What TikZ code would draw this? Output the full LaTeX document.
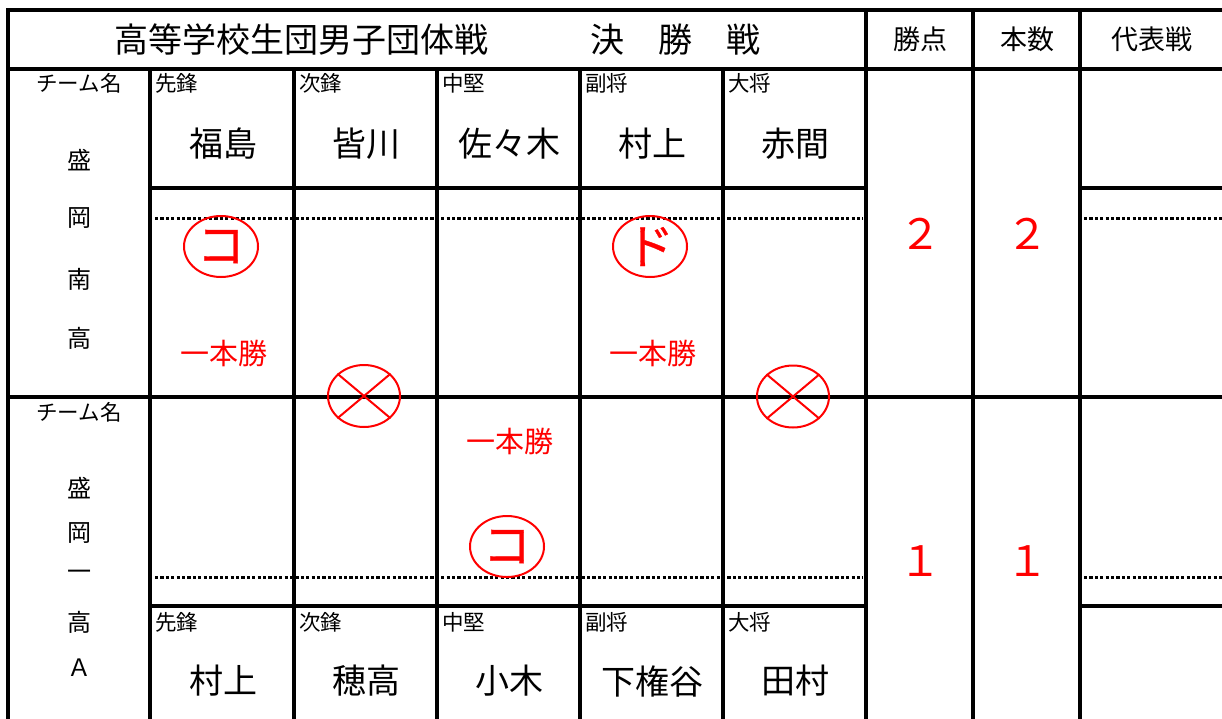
\documentclass[tikz,border=0pt]{standalone}
\usepackage{fontspec}
\setmainfont{Noto Sans CJK JP}
\newfontfamily\jpbold[FakeBold=0.6]{Noto Sans CJK JP}
\usetikzlibrary{shapes.geometric}
\definecolor{markred}{RGB}{255,0,0}
\tikzset{
  gridline/.style={line width=3.2pt, line cap=rect},
  dotline/.style={line width=3pt, dash pattern=on 3.2pt off 2.2pt},
  ttl/.style={inner sep=0pt, font=\fontsize{34}{40}\selectfont},
  hdr/.style={inner sep=0pt, font=\fontsize{27}{32}\selectfont},
  poslbl/.style={inner sep=0pt, anchor=west, font=\fontsize{21.5}{26}\selectfont},
  nm/.style={inner sep=0pt, font=\fontsize{34}{40}\selectfont},
  team/.style={inner sep=0pt, font=\fontsize{24}{28}\selectfont},
  teamlbl/.style={inner sep=0pt, font=\fontsize{21.5}{26}\selectfont},
  redtxt/.style={inner sep=0pt, text=markred, font=\fontsize{29}{34}\selectfont},
  reddig/.style={inner sep=0pt, text=markred, font=\fontsize{42}{48}\selectfont},
  redell/.style={ellipse, draw=markred, line width=2pt, minimum width=74pt, minimum height=61pt, inner sep=0pt, text=markred, font=\jpbold\fontsize{48}{54}\selectfont},
  xmark/.style={draw=markred, line width=2pt},
}
\begin{document}
\begin{tikzpicture}[x=1pt,y=-1pt]
\useasboundingbox (0,0) rectangle (1222,718);
\fill[white] (0,0) rectangle (1222,718);
\begin{scope}
\clip (0,0) rectangle (1222,718);
% horizontal lines
\draw[gridline] (8,10) -- (1240,10);
\draw[gridline] (8,69) -- (1240,69);
\draw[gridline] (150,188) -- (866,188);
\draw[gridline] (1080,188) -- (1240,188);
\draw[gridline] (8,397) -- (1240,397);
\draw[gridline] (150,606) -- (866,606);
\draw[gridline] (1080,606) -- (1240,606);
% vertical lines
\draw[gridline] (8,10) -- (8,740);
\foreach \x in {150,294,437,580,723} \draw[gridline] (\x,69) -- (\x,740);
\foreach \x in {866,973,1080} \draw[gridline] (\x,10) -- (\x,740);
% dotted lines
\draw[dotline] (155,218) -- (863,218);
\draw[dotline] (1084,218) -- (1230,218);
\draw[dotline] (155,577) -- (863,577);
\draw[dotline] (1084,577) -- (1230,577);
\end{scope}

% header
\node[ttl] (title) at (437,40) {高等学校生団男子団体戦　　　決　勝　戦};
\node[hdr] (hp) at (920,39) {勝点};
\node[hdr] (hn) at (1027,39) {本数};
\node[hdr] (hd) at (1152,39) {代表戦};

% top team
\node[teamlbl] (tn1) at (79,83) {チーム名};
\node[team] (a1) at (79,160) {盛};
\node[team] (a2) at (79,218) {岡};
\node[team] (a3) at (79,279) {南};
\node[team] (a4) at (79,338) {高};

\node[poslbl] (p11) at (155,83) {先鋒};
\node[poslbl] (p12) at (299,83) {次鋒};
\node[poslbl] (p13) at (442,83) {中堅};
\node[poslbl] (p14) at (585,83) {副将};
\node[poslbl] (p15) at (728,83) {大将};

\node[nm] (n11) at (223,144) {福島};
\node[nm] (n12) at (366,144) {皆川};
\node[nm] (n13) at (509,144) {佐々木};
\node[nm] (n14) at (652,144) {村上};
\node[nm] (n15) at (795,144) {赤間};

% bottom team
\node[teamlbl] (tn2) at (79,412) {チーム名};
\node[team] (b1) at (79,488) {盛};
\node[team] (b2) at (79,533) {岡};
\node[team] (b3) at (79,575) {一};
\node[team] (b4) at (79,622) {高};
\node[team] (b5) at (79,668) {Ａ};

\node[poslbl] (p21) at (155,622) {先鋒};
\node[poslbl] (p22) at (299,622) {次鋒};
\node[poslbl] (p23) at (442,622) {中堅};
\node[poslbl] (p24) at (585,622) {副将};
\node[poslbl] (p25) at (728,622) {大将};

\node[nm] (n21) at (223,681) {村上};
\node[nm] (n22) at (366,681) {穂高};
\node[nm] (n23) at (509,681) {小木};
\node[nm] (n24) at (652,681) {下権谷};
\node[nm] (n25) at (795,681) {田村};

% red marks
\node[redell] (k1) at (221,246.5) {コ};
\node[redell] (k2) at (650,246.5) {ド};
\node[redell] (k3) at (507,546.5) {コ};
\node[redtxt] (w1) at (224,353) {一本勝};
\node[redtxt] (w2) at (653,353) {一本勝};
\node[redtxt] (w3) at (510,441) {一本勝};

\node[redell, minimum width=72pt, minimum height=62pt] (x1) at (364,396) {};
\draw[xmark] (x1.140) -- (x1.320);
\draw[xmark] (x1.40) -- (x1.220);
\node[redell, minimum width=72pt, minimum height=62pt] (x2) at (793,396.5) {};
\draw[xmark] (x2.140) -- (x2.320);
\draw[xmark] (x2.40) -- (x2.220);

\node[reddig] (s1) at (920,234) {２};
\node[reddig] (s2) at (1027,234) {２};
\node[reddig] (s3) at (920,561) {１};
\node[reddig] (s4) at (1027,561) {１};
\end{tikzpicture}
\end{document}
